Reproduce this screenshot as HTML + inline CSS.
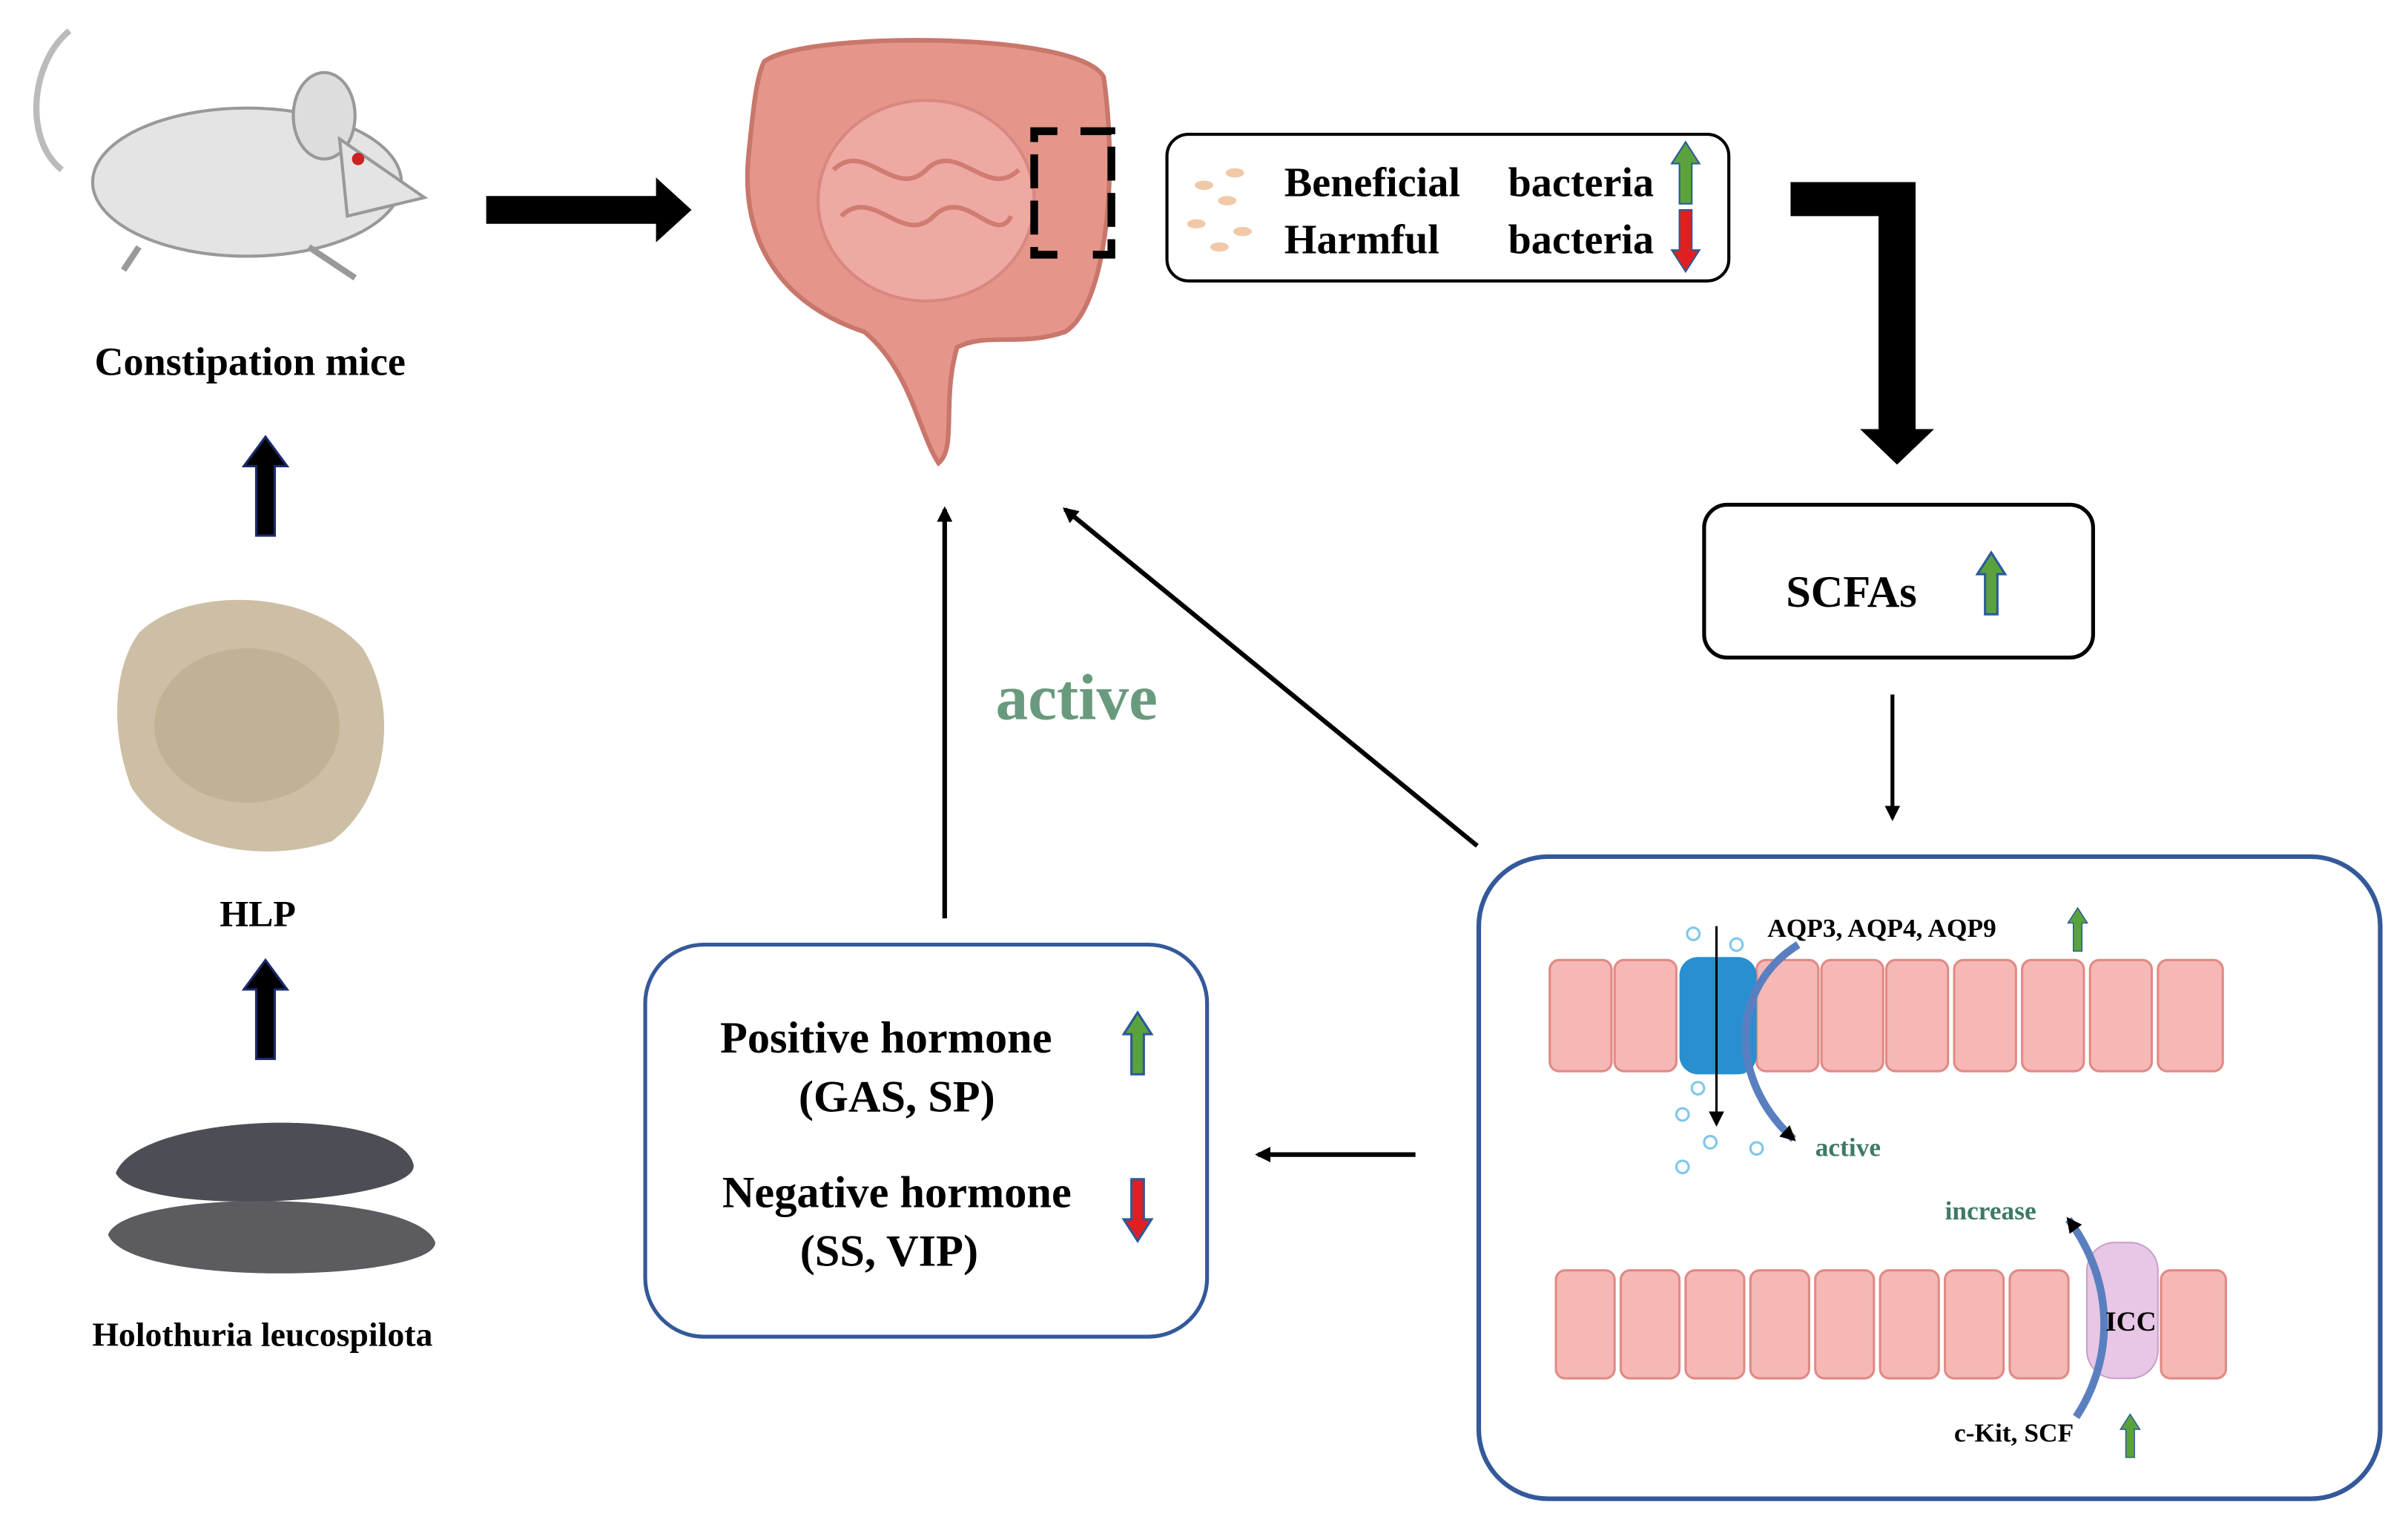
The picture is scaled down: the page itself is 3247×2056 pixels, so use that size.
<!DOCTYPE html>
<html><head><meta charset="utf-8"><style>
html,body{margin:0;padding:0;background:#fff;}
svg{display:block;}
text{font-family:"Liberation Serif",serif;font-weight:bold;}
</style></head><body>
<svg width="3247" height="2056" viewBox="0 0 1560 988" preserveAspectRatio="none" xmlns="http://www.w3.org/2000/svg">
<defs>
<marker id="ah" markerWidth="10" markerHeight="10" refX="8" refY="5" orient="auto" markerUnits="userSpaceOnUse"><path d="M0,0 L10,5 L0,10 z" fill="#000"/></marker>
<g id="up"><path d="M-9,0 L0,-14 L9,0 L4,0 L4,26 L-4,26 L-4,0 z"/></g>
</defs>
<rect width="1560" height="988" fill="#fff"/>

<!-- mouse -->
<path d="M45,20 C20,40 15,90 40,110" stroke="#bbb" stroke-width="4" fill="none"/>
<ellipse cx="160" cy="118" rx="100" ry="48" fill="#e4e4e4" stroke="#999" stroke-width="2"/>
<ellipse cx="210" cy="75" rx="20" ry="28" fill="#ddd" stroke="#999" stroke-width="2"/>
<path d="M220,90 L275,128 L225,140 z" fill="#e4e4e4" stroke="#999" stroke-width="2"/>
<circle cx="232" cy="103" r="4" fill="#c22"/>
<path d="M90,160 L80,175 M200,160 L230,180" stroke="#999" stroke-width="4"/>
<text x="162" y="243" font-size="26" text-anchor="middle">Constipation mice</text>
<g fill="#000" stroke="#1a2a6c" stroke-width="1.5">
<path d="M172,283 L186,302 L178,302 L178,347 L166,347 L166,302 L158,302 z"/>
<path d="M172,622 L186,641 L178,641 L178,686 L166,686 L166,641 L158,641 z"/>
</g>

<!-- HLP -->
<path d="M90,410 C120,380 200,380 235,420 C260,460 250,520 215,545 C170,560 110,550 85,510 C70,470 75,430 90,410z" fill="#cdbfa5"/>
<ellipse cx="160" cy="470" rx="60" ry="50" fill="#b9aa8b" opacity=".6"/>
<text x="167" y="600" font-size="24" text-anchor="middle">HLP</text>

<!-- sea cucumber -->
<path d="M75,760 C90,720 260,715 268,755 C270,780 90,790 75,760z" fill="#4d4d55"/>
<path d="M70,800 C80,770 270,770 282,805 C282,830 85,835 70,800z" fill="#5b5b60"/>
<text x="170" y="872" font-size="22" text-anchor="middle">Holothuria leucospilota</text>

<!-- big right arrow -->
<path d="M315,127 H425 V115 L448,136 L425,157 V145 H315z" fill="#000"/>

<!-- intestine -->
<path d="M495,40 C520,20 700,20 715,50 C725,120 715,200 690,215 C660,225 640,215 620,225 C610,260 620,290 608,300 C595,280 590,240 560,215 C500,195 480,150 485,100 C488,70 490,50 495,40z" fill="#e6958a" stroke="#c9766b" stroke-width="3"/>
<ellipse cx="600" cy="130" rx="70" ry="65" fill="#eeaaa2" stroke="#d88880" stroke-width="2"/>
<path d="M540,110 c20,-20 40,20 60,0 s40,20 60,0 M545,140 c20,-20 40,20 60,0 s40,20 50,0" stroke="#d07c73" stroke-width="3" fill="none"/>
<path d="M685,85 h-15 v80 h15 M700,85 h20 v80 h-20" stroke="#000" stroke-width="5" fill="none" stroke-dasharray="22 8"/>

<!-- bacteria box -->
<rect x="756" y="87" width="364" height="95" rx="14" fill="#fff" stroke="#000" stroke-width="2"/>
<g fill="#f1c9a8"><ellipse cx="780" cy="120" rx="6" ry="3"/><ellipse cx="795" cy="130" rx="6" ry="3"/><ellipse cx="775" cy="145" rx="6" ry="3"/><ellipse cx="805" cy="150" rx="6" ry="3"/><ellipse cx="790" cy="160" rx="6" ry="3"/><ellipse cx="800" cy="112" rx="6" ry="3"/></g>
<text x="832" y="127" font-size="27">Beneficial</text><text x="977" y="127" font-size="27">bacteria</text>
<text x="832" y="164" font-size="27">Harmful</text><text x="977" y="164" font-size="27">bacteria</text>
<g fill="#5aa33c" stroke="#2a5a9a" stroke-width="1"><use href="#up" x="1092" y="106"/></g>
<g fill="#e02020" stroke="#2a5a9a" stroke-width="1" transform="translate(1092,162) scale(1,-1)"><use href="#up" x="0" y="0"/></g>

<!-- elbow arrow -->
<path d="M1160,118 H1241 V278 H1253 L1229,301 L1205,278 H1217 V140 H1160z" fill="#000"/>

<!-- SCFAs -->
<rect x="1104" y="327" width="252" height="99" rx="15" fill="#fff" stroke="#000" stroke-width="2.5"/>
<text x="1157" y="393" font-size="29">SCFAs</text>
<g fill="#5aa33c" stroke="#2a5a9a" stroke-width="1.5"><use href="#up" x="1290" y="372"/></g>
<line x1="1226" y1="450" x2="1226" y2="530" stroke="#000" stroke-width="2.5" marker-end="url(#ah)"/>

<!-- big box -->
<rect x="958" y="555" width="584" height="416" rx="45" fill="#fff" stroke="#34599a" stroke-width="3"/>
<g fill="#f5b8b5" stroke="#e08a86" stroke-width="1.5">
<rect x="1004" y="622" width="40" height="72" rx="6"/><rect x="1046" y="622" width="40" height="72" rx="6"/>
<rect x="1138" y="622" width="40" height="72" rx="6"/><rect x="1180" y="622" width="40" height="72" rx="6"/><rect x="1222" y="622" width="40" height="72" rx="6"/><rect x="1266" y="622" width="40" height="72" rx="6"/><rect x="1310" y="622" width="40" height="72" rx="6"/><rect x="1354" y="622" width="40" height="72" rx="6"/><rect x="1398" y="622" width="42" height="72" rx="6"/>
<rect x="1008" y="823" width="38" height="70" rx="6"/><rect x="1050" y="823" width="38" height="70" rx="6"/><rect x="1092" y="823" width="38" height="70" rx="6"/><rect x="1134" y="823" width="38" height="70" rx="6"/><rect x="1176" y="823" width="38" height="70" rx="6"/><rect x="1218" y="823" width="38" height="70" rx="6"/><rect x="1260" y="823" width="38" height="70" rx="6"/><rect x="1302" y="823" width="38" height="70" rx="6"/><rect x="1400" y="823" width="42" height="70" rx="6"/>
</g>
<rect x="1088" y="620" width="50" height="76" rx="12" fill="#2a8fcf"/>
<rect x="1352" y="805" width="46" height="88" rx="18" fill="#e8c6e6" stroke="#c9a0c8"/>
<line x1="1112" y1="600" x2="1112" y2="728" stroke="#000" stroke-width="1.5" marker-end="url(#ah)"/>
<path d="M1165,612 C1120,640 1120,700 1162,738" stroke="#5a7fc0" stroke-width="5" fill="none" marker-end="url(#ah)"/>
<path d="M1345,918 C1370,880 1370,830 1340,790" stroke="#5a7fc0" stroke-width="5" fill="none" marker-end="url(#ah)"/>
<g fill="none" stroke="#7fc7ea" stroke-width="1.5"><circle cx="1097" cy="605" r="4"/><circle cx="1125" cy="612" r="4"/><circle cx="1090" cy="722" r="4"/><circle cx="1108" cy="740" r="4"/><circle cx="1138" cy="744" r="4"/><circle cx="1090" cy="756" r="4"/><circle cx="1100" cy="705" r="4"/></g>
<text x="1145" y="607" font-size="17">AQP3, AQP4, AQP9</text>
<g fill="#5aa33c" stroke="#2a5a9a" stroke-width="1" transform="translate(1346,598) scale(.7)"><use href="#up"/></g>
<text x="1176" y="749" font-size="17" fill="#3f7a63">active</text>
<text x="1260" y="790" font-size="17" fill="#3f7a63">increase</text>
<text x="1364" y="862" font-size="18">ICC</text>
<text x="1266" y="934" font-size="17">c-Kit, SCF</text>
<g fill="#5aa33c" stroke="#2a5a9a" stroke-width="1" transform="translate(1380,926) scale(.7)"><use href="#up"/></g>

<!-- diagonal arrow -->
<line x1="957" y1="548" x2="690" y2="330" stroke="#000" stroke-width="3" marker-end="url(#ah)"/>
<line x1="612" y1="595" x2="612" y2="330" stroke="#000" stroke-width="3" marker-end="url(#ah)"/>
<text x="645" y="466" font-size="42" fill="#6a9a7e">active</text>

<!-- hormone box -->
<rect x="418" y="612" width="364" height="254" rx="38" fill="#fff" stroke="#34599a" stroke-width="2.5"/>
<text x="574" y="682" font-size="29" text-anchor="middle">Positive hormone</text>
<text x="581" y="720" font-size="29" text-anchor="middle">(GAS, SP)</text>
<text x="581" y="782" font-size="29" text-anchor="middle">Negative hormone</text>
<text x="576" y="820" font-size="29" text-anchor="middle">(SS, VIP)</text>
<g fill="#5aa33c" stroke="#2a5a9a" stroke-width="1.5"><use href="#up" x="737" y="670"/></g>
<g fill="#e02020" stroke="#2a5a9a" stroke-width="1.5" transform="translate(737,790) scale(1,-1)"><use href="#up"/></g>
<line x1="917" y1="748" x2="815" y2="748" stroke="#000" stroke-width="3" marker-end="url(#ah)"/>
</svg>
</body></html>
